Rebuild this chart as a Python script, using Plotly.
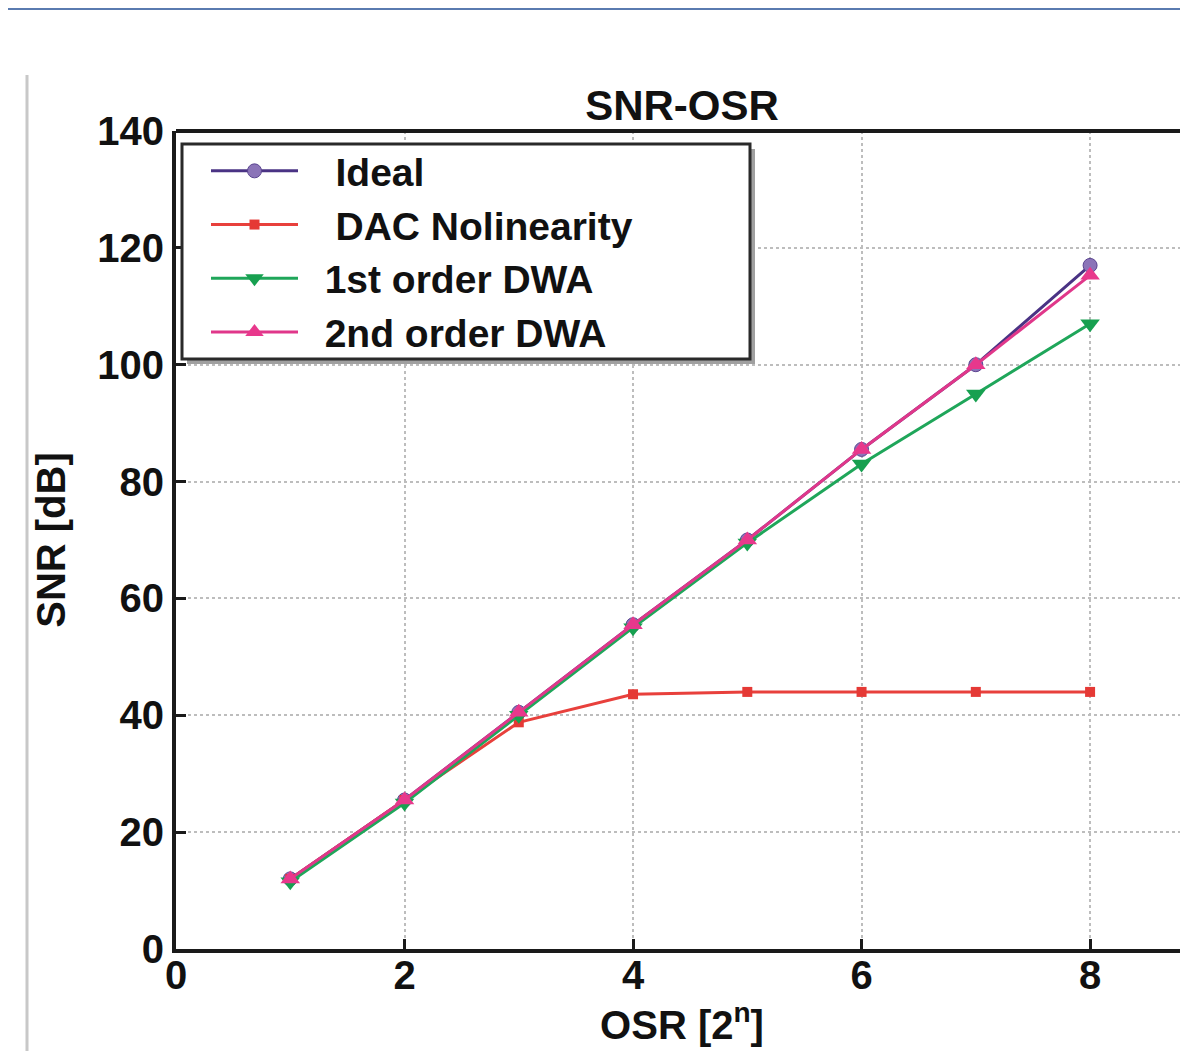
import plotly.graph_objects as go

osr = [1, 2, 3, 4, 5, 6, 7, 8]
snr_ideal = [12.0, 25.5, 40.5, 55.5, 70.0, 85.5, 100.0, 117.0]
snr_dac = [12.0, 25.5, 38.8, 43.6, 44.0, 44.0, 44.0, 44.0]
snr_dwa1 = [11.5, 25.0, 40.0, 55.0, 69.5, 83.0, 95.0, 107.0]
snr_dwa2 = [12.0, 25.5, 40.5, 55.5, 70.0, 85.5, 100.0, 115.3]

y_ticks = [0, 20, 40, 60, 80, 100, 120, 140]
x_ticks = [0, 2, 4, 6, 8]

FONT = "Liberation Sans, Arial, sans-serif"
NB = "\u00a0"

fig = go.Figure()
fig.add_trace(go.Scatter(x=osr, y=snr_ideal, name=NB * 3 + "Ideal", mode="lines+markers",
                         line=dict(color="#4a3384", width=3),
                         marker=dict(symbol="circle", size=14, color="#8b74b8",
                                     line=dict(color="#5a4490", width=1))))
fig.add_trace(go.Scatter(x=osr, y=snr_dac, name=NB * 3 + "DAC Nolinearity", mode="lines+markers",
                         line=dict(color="#e8403c", width=3),
                         marker=dict(symbol="square", size=10, color="#e53935")))
fig.add_trace(go.Scatter(x=osr, y=snr_dwa1, name=NB * 2 + "1st order DWA", mode="lines+markers",
                         line=dict(color="#1fa65a", width=3),
                         marker=dict(symbol="triangle-down", size=17, color="#17a050")))
fig.add_trace(go.Scatter(x=osr, y=snr_dwa2, name=NB * 2 + "2nd order DWA", mode="lines+markers",
                         line=dict(color="#e0378a", width=3),
                         marker=dict(symbol="triangle-up", size=17, color="#e8388c")))

# page body has an 8px margin, so figure coords = screen coords - 8
W, H = 1180, 1043
L, R, T, B = 168, 0, 123, 102
pw, ph = W - L - R, H - T - B

def px(xp):
    return (xp - L) / pw

def py(yp):
    return (H - B - yp) / ph

shapes = [
    # top border of the axes box
    dict(type="line", xref="paper", yref="paper", x0=0, x1=1, y0=1, y1=1,
         line=dict(color="#1a1a1a", width=4)),
    # page decorations
    dict(type="line", xref="paper", yref="paper", x0=px(-10), x1=px(W), y0=py(0.5), y1=py(0.5),
         line=dict(color="#5a7bb0", width=3)),
    dict(type="line", xref="paper", yref="paper", x0=px(19), x1=px(19), y0=py(67), y1=py(H),
         line=dict(color="#c8c8c8", width=3)),
    # legend box: shadow then framed white box
    dict(type="rect", xref="paper", yref="paper", x0=px(179), x1=px(747), y0=py(141), y1=py(356),
         line=dict(width=0), fillcolor="#a0a0a0", layer="above"),
    dict(type="rect", xref="paper", yref="paper", x0=px(174), x1=px(742), y0=py(136), y1=py(351),
         line=dict(color="#2a2a2a", width=3), fillcolor="white", layer="above"),
]

fig.update_layout(
    width=W, height=H,
    margin=dict(l=L, r=R, t=T, b=B, autoexpand=False),
    paper_bgcolor="white", plot_bgcolor="white",
    font=dict(family=FONT, color="#111111", size=40, weight="bold"),
    title=dict(text="SNR-OSR", x=0.5, xanchor="center", xref="paper",
               y=1 - 97 / H, yref="container", yanchor="middle",
               font=dict(size=42, family=FONT, weight="bold", color="#111111")),
    showlegend=True,
    legend=dict(x=px(198), y=py(131), xanchor="left", yanchor="top",
                bgcolor="rgba(0,0,0,0)", borderwidth=0,
                font=dict(size=39, family=FONT, weight="bold", color="#111111"),
                itemwidth=87, tracegroupgap=0),
    shapes=shapes,
)

fig.update_xaxes(range=[0, 8.857], tickvals=x_ticks, ticktext=[str(v) for v in x_ticks],
                 showline=True, linecolor="#1a1a1a", linewidth=4, mirror=False,
                 ticks="inside", ticklen=10, tickwidth=3, tickcolor="#1a1a1a",
                 showgrid=True, gridcolor="#bdbdbd", gridwidth=2, griddash="dot",
                 zeroline=False, ticklabelstandoff=-12,
                 title=dict(text="OSR [2<sup>n</sup>]" + NB * 5, standoff=8,
                            font=dict(size=40, family=FONT, weight="bold")),
                 tickfont=dict(size=40, family=FONT, weight="bold"))
fig.update_yaxes(range=[0, 140], tickvals=y_ticks, ticktext=[str(v) for v in y_ticks],
                 showline=True, linecolor="#1a1a1a", linewidth=4, mirror=False,
                 ticks="inside", ticklen=10, tickwidth=3, tickcolor="#1a1a1a",
                 showgrid=True, gridcolor="#bdbdbd", gridwidth=2, griddash="dot",
                 zeroline=False,
                 title=dict(text="SNR [dB]" + NB * 6, standoff=20,
                            font=dict(size=40, family=FONT, weight="bold")),
                 tickfont=dict(size=40, family=FONT, weight="bold"))

fig.write_html("out.html")
